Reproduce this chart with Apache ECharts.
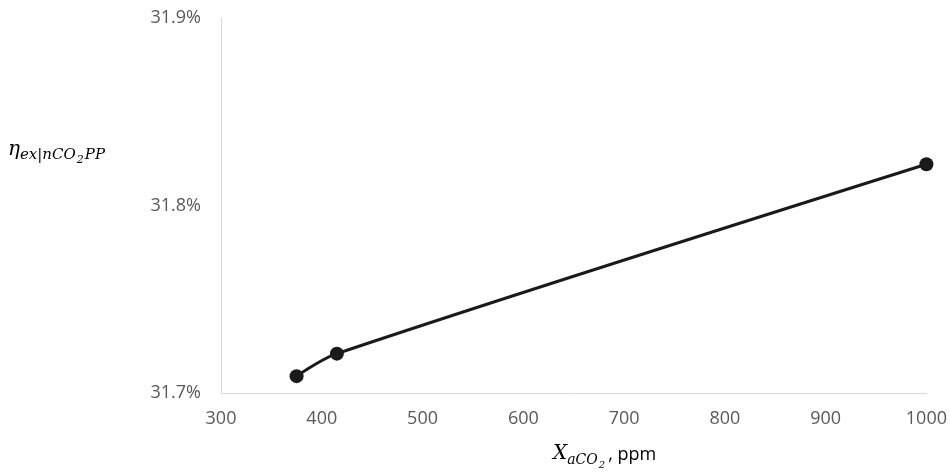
<!DOCTYPE html>
<html>
<head>
<meta charset="utf-8">
<script src="https://cdn.jsdelivr.net/npm/echarts@6/dist/echarts.min.js"></script>
<style>
  html, body { margin: 0; padding: 0; background: #fff; }
  #chart { width: 950px; height: 474px; }
</style>
</head>
<body>
<div id="chart"></div>
<script>
// CO2 concentration (ppm) vs exergy efficiency (%)
const xValues = [375, 415, 1000]
const etaValues = [31.709, 31.721, 31.822]
const yTicks = [31.7, 31.8, 31.9]
const xTicks = [300, 1000]

const chart = echarts.init(document.getElementById('chart'))

const mathFont = '"DejaVu Serif", "Liberation Serif", serif'
const tickFont = '"Open Sans", sans-serif'
const labelColor = '#595959'

chart.setOption({
    animation: false,
    grid: {
        left: 221,
        right: 23,
        top: 18,
        bottom: 81,
    },
    xAxis: {
        type: 'value',
        min: xTicks[0],
        max: xTicks[1],
        interval: 100,
        axisLine: { lineStyle: { color: '#d9d9d9', width: 1 } },
        axisTick: { show: false },
        splitLine: { show: false },
        axisLabel: {
            color: labelColor,
            fontSize: 18,
            fontFamily: tickFont,
            margin: 17,
            formatter: v => String(v),
        },
    },
    yAxis: {
        type: 'value',
        min: yTicks[0],
        max: yTicks[yTicks.length - 1],
        interval: 0.1,
        axisLine: { show: true, lineStyle: { color: '#d9d9d9', width: 1 } },
        axisTick: { show: false },
        splitLine: { show: false },
        axisLabel: {
            color: labelColor,
            fontSize: 18,
            fontFamily: tickFont,
            margin: 20,
            formatter: v => v.toFixed(1) + '%',
        },
    },
    series: [
        {
            type: 'line',
            data: xValues.map((x, i) => [x, etaValues[i]]),
            smooth: 0.3,
            symbol: 'circle',
            symbolSize: 14,
            lineStyle: { color: '#1a1a1a', width: 3 },
            itemStyle: { color: '#1a1a1a' },
        },
    ],
    graphic: [
        {
            type: 'text',
            left: 8,
            top: 140,
            style: {
                text: '{m|η}{s|ex|nCO}{ss|2}{s|PP}',
                rich: {
                    m: { fontFamily: mathFont, fontStyle: 'italic', fontSize: 20, fill: '#000', verticalAlign: 'bottom' },
                    s: { fontFamily: mathFont, fontStyle: 'italic', fontSize: 15, fill: '#000', verticalAlign: 'bottom', padding: [0, 0, -3, 0] },
                    ss: { fontFamily: mathFont, fontStyle: 'italic', fontSize: 11, fill: '#000', verticalAlign: 'bottom', padding: [0, 1, -6, 1] },
                },
            },
        },
        {
            type: 'text',
            left: 553,
            top: 444,
            style: {
                text: '{m|X}{s|aCO}{ss|2}{t|, ppm}',
                rich: {
                    m: { fontFamily: mathFont, fontStyle: 'italic', fontSize: 20, fill: '#000', verticalAlign: 'bottom' },
                    s: { fontFamily: mathFont, fontStyle: 'italic', fontSize: 14, fill: '#000', verticalAlign: 'bottom', padding: [0, 0, -3, 0] },
                    ss: { fontFamily: mathFont, fontStyle: 'italic', fontSize: 10, fill: '#000', verticalAlign: 'bottom', padding: [0, 3, -6, 1] },
                    t: { fontFamily: tickFont, fontSize: 18, fill: '#000', verticalAlign: 'bottom' },
                },
            },
        },
    ],
})
</script>
</body>
</html>
